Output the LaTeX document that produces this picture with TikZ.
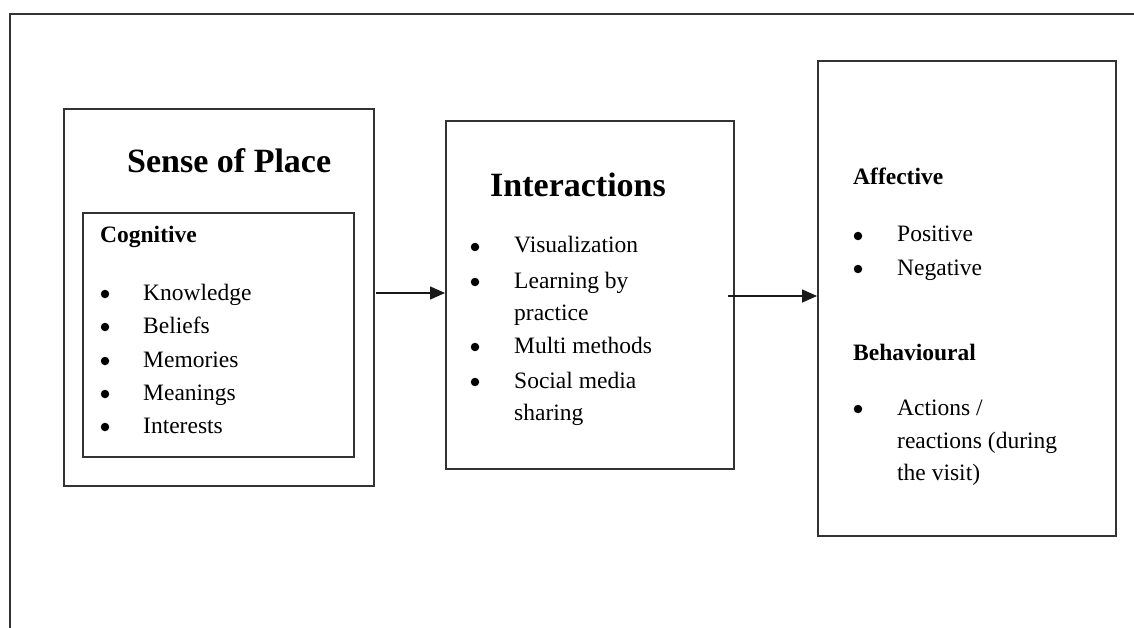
\documentclass[tikz,border=0pt]{standalone}
\usepackage{fontspec}
\setmainfont{Liberation Serif}
\usetikzlibrary{arrows.meta}
\begin{document}
\begin{tikzpicture}[x=1pt,y=-1pt,
 frame/.style={draw=black!80, line width=1.6pt, inner sep=0pt, anchor=north west},
 txt/.style={anchor=base west, inner sep=0pt, font=\fontsize{23.5}{28}\selectfont},
 bul/.style={circle, fill=black, inner sep=0pt, minimum size=8.5pt},
 head/.style={anchor=base west, inner sep=0pt, font=\fontsize{23.5}{28}\selectfont\bfseries},
 ttl/.style={anchor=base west, inner sep=0pt, font=\fontsize{34}{40}\selectfont\bfseries},
 arr/.style={-{Triangle[length=15pt,width=13pt]}, line width=1.6pt, draw=black!90}]
\clip (0,0) rectangle (1134,628);
\node[frame, minimum width=1200pt, minimum height=700pt] (outer) at (9,13) {};
% boxes
\node[frame, minimum width=310pt, minimum height=377pt] (sop) at (63,108) {};
\node[frame, minimum width=271pt, minimum height=244pt] (cog) at (82,212) {};
\node[frame, minimum width=288pt, minimum height=348pt] (inter) at (445,120) {};
\node[frame, minimum width=298pt, minimum height=475pt] (out) at (817,60) {};
% Sense of place
\node[ttl] (sopt) at (127,173) {Sense of Place};
\node[head] (cogt) at (100,243) {Cognitive};
\node[bul] (b1) at (105,294) {};
\node[txt] (t1) at (143,300) {Knowledge};
\node[bul] (b2) at (105,327) {};
\node[txt] (t2) at (143,333) {Beliefs};
\node[bul] (b3) at (105,361) {};
\node[txt] (t3) at (143,367) {Memories};
\node[bul] (b4) at (105,394) {};
\node[txt] (t4) at (143,400) {Meanings};
\node[bul] (b5) at (105,427) {};
\node[txt] (t5) at (143,433) {Interests};
% Interactions
\node[ttl] (intt) at (490,197) {Interactions};
\node[bul] (c1) at (475,247) {};
\node[txt] (i1) at (514,253) {Visualization};
\node[bul] (c2) at (475,282) {};
\node[txt] (i2) at (514,288) {Learning by};
\node[txt] (i2b) at (514,320) {practice};
\node[bul] (c3) at (475,347) {};
\node[txt] (i3) at (514,353) {Multi methods};
\node[bul] (c4) at (475,382) {};
\node[txt] (i4) at (514,388) {Social media};
\node[txt] (i4b) at (514,420) {sharing};
% Outcomes
\node[head] (aff) at (853,185) {Affective};
\node[bul] (d1) at (858,236) {};
\node[txt] (o1) at (897,242) {Positive};
\node[bul] (d2) at (858,269) {};
\node[txt] (o2) at (897,275) {Negative};
\node[head] (beh) at (853,360) {Behavioural};
\node[bul] (d3) at (858,409) {};
\node[txt] (o3) at (897,415) {Actions /};
\node[txt] (o3b) at (897,448) {reactions (during};
\node[txt] (o3c) at (897,480) {the visit)};
% arrows
\coordinate (a1) at (376,293);
\coordinate (a2) at (728,296);
\draw[arr] (a1) -- (a1 -| inter.west);
\draw[arr] (a2) -- (a2 -| out.west);
\end{tikzpicture}
\end{document}
